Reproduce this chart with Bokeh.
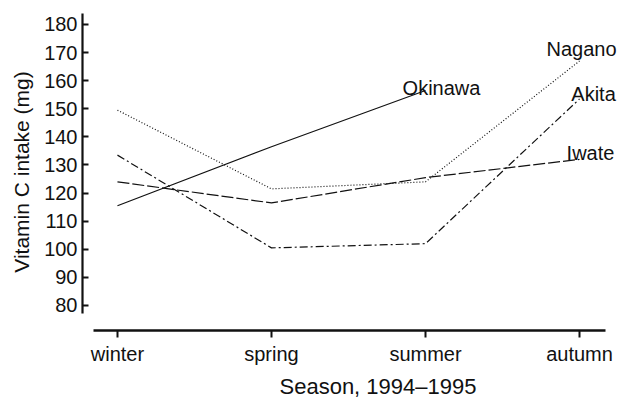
import numpy as np
from bokeh.plotting import figure
from bokeh.models import ColumnDataSource, Range1d, FixedTicker, Title
from bokeh.core.properties import value
from bokeh.embed import file_html
from bokeh.resources import INLINE

# ---- data ----
seasons = ["winter", "spring", "summer", "autumn"]
okinawa = [115.5, 136.5, 156.5, np.nan]
nagano = [149.5, 121.5, 124.0, 167.0]
iwate = [124.0, 116.5, 125.5, 132.0]
akita = [133.5, 100.5, 102.0, 153.5]
region_names = ["Okinawa", "Nagano", "Akita", "Iwate"]
y_ticks = [80, 90, 100, 110, 120, 130, 140, 150, 160, 170, 180]
x_title = "Season, 1994\u20131995"
y_title = "Vitamin C intake (mg)"

# ---- styles ----
FONT = "Liberation Sans"
INK = "#111111"
W, H = 624, 404
x = list(range(len(seasons)))
series = {"Okinawa": okinawa, "Nagano": nagano, "Akita": akita, "Iwate": iwate}
dashes = {"Okinawa": "solid", "Nagano": "1 2", "Akita": "8 3 2 3", "Iwate": "12 3"}
label_dx = {"Okinawa": 16, "Nagano": 2, "Akita": 14, "Iwate": 11}
label_dy = {"Okinawa": -3, "Nagano": -12, "Akita": -5, "Iwate": -6}

p = figure(width=W, height=H, output_backend="svg", toolbar_location=None,
           x_range=Range1d(-0.227, 3.292), y_range=Range1d(71.1, 183.9),
           min_border_left=82, min_border_right=0, min_border_top=13, min_border_bottom=74)
p.outline_line_color = None
p.grid.visible = False
p.background_fill_color = "white"
p.border_fill_color = "white"

for name in region_names:
    p.line(x, series[name], line_color=INK, line_width=1.2, line_dash=dashes[name])

# end labels
lx, ly, lt, dx, dy = [], [], [], [], []
for name in region_names:
    vals = series[name]
    idx = max(i for i, v in enumerate(vals) if not np.isnan(v))
    lx.append(x[idx]); ly.append(vals[idx]); lt.append(name)
    dx.append(label_dx[name]); dy.append(label_dy[name])
src = ColumnDataSource(dict(x=lx, y=ly, t=lt, dx=dx, dy=dy))
p.text(x="x", y="y", text="t", x_offset="dx", y_offset="dy", source=src,
       text_align="center", text_baseline="alphabetic",
       text_font=value(FONT), text_font_size="20px", text_color=INK)

# y axis
ya = p.yaxis[0]
ya.ticker = FixedTicker(ticks=y_ticks)
ya.bounds = (77.2, 183.9)
ya.axis_line_width = 2.2
ya.axis_line_color = INK
ya.major_tick_in = 6
ya.major_tick_out = 0
ya.major_tick_line_width = 2
ya.major_tick_line_color = INK
ya.minor_tick_line_color = None
ya.major_label_text_font = FONT
ya.major_label_text_font_size = "20px"
ya.major_label_text_color = INK
ya.major_label_standoff = 5
ya.axis_label = y_title
ya.axis_label_text_font = FONT
ya.axis_label_text_font_size = "21px"
ya.axis_label_text_font_style = "normal"
ya.axis_label_text_color = INK
ya.axis_label_standoff = 8

# x axis
xa = p.xaxis[0]
xa.ticker = FixedTicker(ticks=x)
xa.major_label_overrides = {i: s for i, s in zip(x, seasons)}
xa.bounds = (-0.156, 3.169)
xa.axis_line_width = 2.6
xa.axis_line_color = INK
xa.major_tick_in = 0
xa.major_tick_out = 7
xa.major_tick_line_width = 2
xa.major_tick_line_color = INK
xa.minor_tick_line_color = None
xa.major_label_text_font = FONT
xa.major_label_text_font_size = "20px"
xa.major_label_text_color = INK
xa.major_label_standoff = 5

# x axis title, shifted right of centre as in the original
p.add_layout(Title(text=x_title, align="left", offset=197, standoff=8,
                   text_font=FONT, text_font_size="22px", text_font_style="normal",
                   text_color=INK), "below")

open("out.html", "w").write(file_html(p, INLINE))
